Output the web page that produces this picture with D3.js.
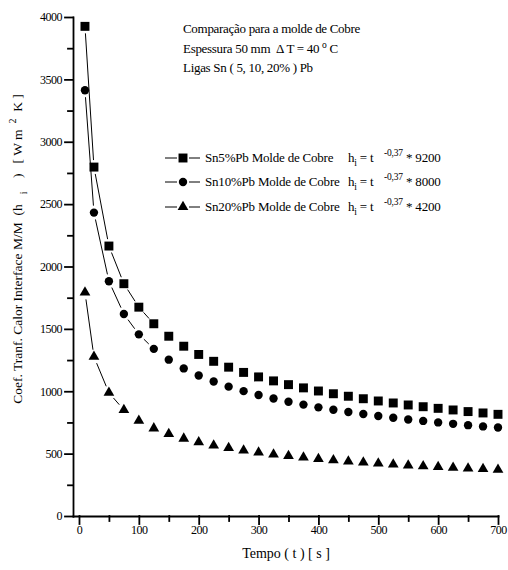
<!DOCTYPE html>
<html>
<head>
<meta charset="utf-8">
<script src="https://cdn.jsdelivr.net/npm/d3@7"></script>
<style>
  body { margin: 0; background: #fff; }
  svg text { font-family: "Liberation Serif", "Times New Roman", serif; fill: #000; white-space: pre; }
</style>
</head>
<body>
<svg id="chart" width="508" height="570"></svg>
<script>
// time of each point (s)
const times = [10, 25, 50, 75, 100, 125, 150, 175, 200, 225, 250, 275, 300, 325, 350,
    375, 400, 425, 450, 475, 500, 525, 550, 575, 600, 625, 650, 675, 700];

// heat transfer coefficient, W/m2K
const sn5 = [3925, 2797, 2164, 1862, 1674, 1541, 1441, 1361, 1295, 1240, 1193, 1151, 1115, 1083, 1053,
    1027, 1002, 980, 960, 940, 922, 906, 890, 876, 863, 850, 837, 826, 815];
const sn10 = [3413, 2432, 1882, 1619, 1456, 1340, 1253, 1183, 1126, 1078, 1037, 1001, 970, 942, 916,
    893, 871, 852, 834, 818, 802, 788, 774, 762, 750, 739, 728, 718, 709];
const sn20 = [1792, 1277, 988, 850, 764, 703, 658, 621, 591, 566, 545, 525, 509, 494, 481,
    469, 457, 447, 438, 429, 421, 414, 406, 400, 394, 388, 382, 377, 372];

const seriesNames = ["Sn5%Pb Molde de Cobre", "Sn10%Pb Molde de Cobre", "Sn20%Pb Molde de Cobre"];
const seriesFactors = ["9200", "8000", "4200"];
const seriesShapes = [d3.symbolSquare, d3.symbolCircle, d3.symbolTriangle];

const xTicks = [0, 100, 200, 300, 400, 500, 600, 700];
const xMinor = [50, 150, 250, 350, 450, 550, 650];
const yTicks = [0, 500, 1000, 1500, 2000, 2500, 3000, 3500, 4000];
const yMinor = [250, 750, 1250, 1750, 2250, 2750, 3250, 3750];

const svg = d3.select("#chart");

const x = d3.scaleLinear().domain([-10, 700]).range([73, 498]);
const y = d3.scaleLinear().domain([0, 4000]).range([516, 17]);

// axes
svg.append("g")
    .attr("transform", `translate(0,${y(0)})`)
    .call(d3.axisBottom(x).tickValues(xTicks).tickSize(8).tickSizeOuter(0)
        .tickPadding(1).tickFormat(d3.format("d")));
svg.append("g")
    .attr("transform", `translate(0,${y(0)})`)
    .call(d3.axisBottom(x).tickValues(xMinor).tickSize(5).tickFormat(""))
    .select(".domain").remove();

svg.append("g")
    .attr("transform", `translate(${x(-10)},0)`)
    .call(d3.axisLeft(y).tickValues(yTicks).tickSize(8).tickSizeOuter(0)
        .tickPadding(3).tickFormat(d3.format("d")));
svg.append("g")
    .attr("transform", `translate(${x(-10)},0)`)
    .call(d3.axisLeft(y).tickValues(yMinor).tickSize(5).tickFormat(""))
    .select(".domain").remove();

svg.selectAll(".domain, .tick line")
    .attr("stroke", "#000")
    .attr("stroke-width", 1.8)
    .attr("stroke-linecap", "square");
svg.selectAll(".tick text")
    .style("font-size", "12px")
    .style("letter-spacing", "-0.5px");

// connecting lines, with a gap around each marker (short links vanish)
const gap = 7;
[sn5, sn10, sn20].forEach(vals => {
    for (let i = 0; i < times.length - 1; i++) {
        const x0 = x(times[i]), y0 = y(vals[i]);
        const x1 = x(times[i + 1]), y1 = y(vals[i + 1]);
        const len = Math.hypot(x1 - x0, y1 - y0);
        if (len < 20) continue;
        const ux = (x1 - x0) / len, uy = (y1 - y0) / len;
        svg.append("line")
            .attr("x1", x0 + ux * gap).attr("y1", y0 + uy * gap)
            .attr("x2", x1 - ux * gap).attr("y2", y1 - uy * gap)
            .attr("stroke", "#000")
            .attr("stroke-width", 1);
    }
});

// markers
const symbolSizes = [80, 55, 50];
[sn5, sn10, sn20].forEach((vals, s) => {
    svg.append("g").selectAll("path")
        .data(times)
        .enter()
        .append("path")
        .attr("transform", (t, i) => `translate(${x(t)},${y(vals[i])})`)
        .attr("d", d3.symbol().type(seriesShapes[s]).size(symbolSizes[s]))
        .attr("fill", "#000");
});

// legend
const legendY = [158, 182, 207];
seriesNames.forEach((name, s) => {
    const g = svg.append("g").attr("transform", `translate(0,${legendY[s]})`);
    g.append("line").attr("x1", 165).attr("x2", 177).attr("y1", 0).attr("y2", 0)
        .attr("stroke", "#000").attr("stroke-width", 1);
    g.append("line").attr("x1", 189).attr("x2", 200).attr("y1", 0).attr("y2", 0)
        .attr("stroke", "#000").attr("stroke-width", 1);
    g.append("path")
        .attr("transform", "translate(183,0)")
        .attr("d", d3.symbol().type(seriesShapes[s]).size(symbolSizes[s]))
        .attr("fill", "#000");
    g.append("text")
        .attr("x", 205).attr("y", 4)
        .style("font-size", "13px")
        .style("letter-spacing", "-0.2px")
        .text(name);
    const eq = g.append("text")
        .attr("x", 348).attr("y", 4)
        .style("font-size", "13px")
        .style("letter-spacing", "-0.2px");
    eq.append("tspan").text("h");
    eq.append("tspan").attr("dy", 4).style("font-size", "9.5px").text("i");
    eq.append("tspan").attr("dy", -4).text(" = t");
    eq.append("tspan").attr("x", 384).attr("dy", -6).style("font-size", "9.5px").text("-0,37");
    eq.append("tspan").attr("x", 406).attr("dy", 6).text("* " + seriesFactors[s]);
});

// annotation
const note = svg.append("g")
    .style("font-size", "13px")
    .style("letter-spacing", "-0.3px");
note.append("text").attr("x", 183).attr("y", 33).text("Comparação para a molde de Cobre");
const note2 = note.append("text").attr("x", 183).attr("y", 53);
note2.append("tspan").text("Espessura 50 mm  Δ T = 40 ");
note2.append("tspan").attr("dy", -5).style("font-size", "9.5px").text("o");
note2.append("tspan").attr("dy", 5).text(" C");
note.append("text").attr("x", 183).attr("y", 72).text("Ligas Sn ( 5, 10, 20% ) Pb");

// axis titles
svg.append("text")
    .attr("x", 286).attr("y", 558)
    .attr("text-anchor", "middle")
    .style("font-size", "14px")
    .text("Tempo ( t ) [ s ]");

const yLabel = svg.append("text")
    .attr("transform", "translate(22,249) rotate(-90)")
    .attr("text-anchor", "middle")
    .style("font-size", "13.5px");
yLabel.append("tspan").text("Coef. Tranf. Calor Interface M/M  (h");
yLabel.append("tspan").attr("dy", 5).style("font-size", "10px").text("    i");
yLabel.append("tspan").attr("dy", -5).text("    )   [ W m ");
yLabel.append("tspan").attr("dy", -6).style("font-size", "10px").text(" 2");
yLabel.append("tspan").attr("dy", 6).text("  K ]");
</script>
</body>
</html>
